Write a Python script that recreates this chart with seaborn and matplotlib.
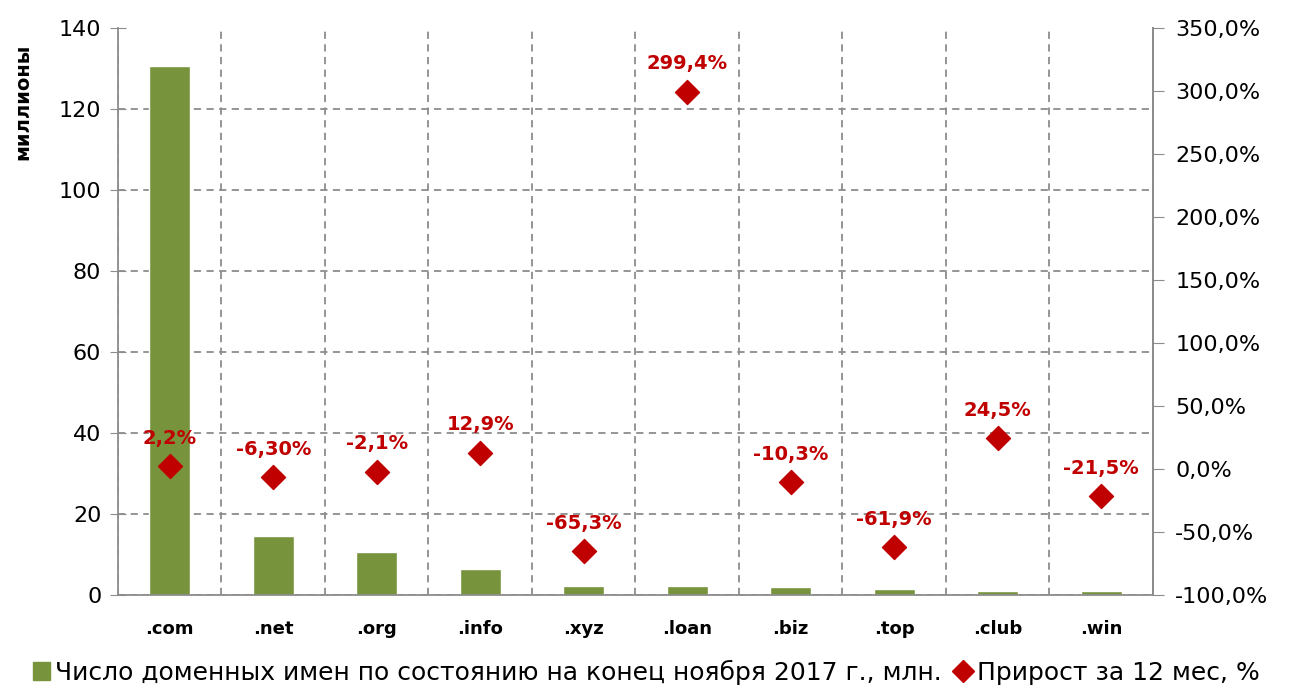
import matplotlib
matplotlib.use("Agg")
import matplotlib.pyplot as plt
import seaborn as sns
import pandas as pd
from matplotlib.lines import Line2D
from matplotlib.patches import Patch
from matplotlib.ticker import FuncFormatter, MultipleLocator, FixedLocator

categories = [".com", ".net", ".org", ".info", ".xyz", ".loan", ".biz", ".top", ".club", ".win"]
domains_mln = [130.6, 14.6, 10.6, 6.4, 2.3, 2.1, 2.0, 1.5, 1.0, 1.0]
growth_pct = [2.2, -6.3, -2.1, 12.9, -65.3, 299.4, -10.3, -61.9, 24.5, -21.5]
growth_labels = ["2,2%", "-6,30%", "-2,1%", "12,9%", "-65,3%", "299,4%", "-10,3%", "-61,9%", "24,5%", "-21,5%"]
legend_bar = "Число доменных имен по состоянию на конец ноября 2017 г., млн."
legend_pt = "Прирост за 12 мес, %"
ylabel = "миллионы"

sns.set_style("white")
plt.rcParams['font.family'] = ['DejaVu Sans']
plt.rcParams['text.color'] = 'black'
plt.rcParams['axes.labelcolor'] = 'black'
plt.rcParams['xtick.color'] = 'black'
plt.rcParams['ytick.color'] = 'black'

df = pd.DataFrame({"cat": categories, "val": domains_mln, "g": growth_pct})

fig = plt.figure(figsize=(12.92, 6.90), dpi=100)
ax = fig.add_axes([0.0913, 0.1377, 0.8011, 0.8217])

green = "#77933C"
red = "#C00000"
grey = "#8C8C8C"

sns.barplot(data=df, x="cat", y="val", ax=ax, color=green, width=0.4, saturation=1)
ax.set_xlim(-0.5, 9.5)
ax.set_ylim(0, 140)
ax.yaxis.set_major_locator(FixedLocator(list(range(0, 141, 20))))
ax.set_xlabel("")
ax.set_ylabel(ylabel, fontsize=14, fontweight="bold", color="black")
ax.yaxis.set_label_coords(-0.083, 0.87)

# grid
ax.xaxis.set_minor_locator(FixedLocator([i + 0.5 for i in range(-1, 10)]))
ax.grid(True, which="major", axis="y", linestyle=(0, (4, 3)), color=grey, linewidth=1.3)
ax.grid(True, which="minor", axis="x", linestyle=(0, (4, 3)), color=grey, linewidth=1.3)
ax.set_axisbelow(True)
gl = ax.yaxis.get_gridlines()
gl[-1].set_visible(False)

ax.spines["top"].set_visible(False)
for s in ["left", "bottom", "right"]:
    ax.spines[s].set_color(grey)
    ax.spines[s].set_linewidth(1.3)

ax.tick_params(axis="y", which="major", direction="inout", length=12, color=grey, labelsize=16, pad=6, labelcolor="black")
ax.tick_params(axis="x", which="major", length=0, labelsize=13, pad=18, labelcolor="black")
ax.tick_params(axis="x", which="minor", direction="out", length=8, color=grey)
for lbl in ax.get_xticklabels():
    lbl.set_fontweight("bold")

ax2 = ax.twinx()
sns.scatterplot(data=df, x="cat", y="g", ax=ax2, marker="D", color=red, s=150, edgecolor=red, zorder=5, legend=False)
ax2.set_ylim(-100, 350)
ax2.yaxis.set_major_locator(MultipleLocator(50))
ax2.yaxis.set_major_formatter(FuncFormatter(lambda v, p: f"{v:.1f}%".replace(".", ",")))
ax2.set_ylabel("")
ax2.tick_params(axis="y", direction="out", length=8, color=grey, labelsize=16, pad=8, labelcolor="black")
for s in ["top", "left", "bottom"]:
    ax2.spines[s].set_visible(False)
ax2.spines["right"].set_color(grey)
ax2.spines["right"].set_linewidth(1.3)
ax2.set_xlim(-0.5, 9.5)

for i, (v, t) in enumerate(zip(growth_pct, growth_labels)):
    ax2.annotate(t, (i, v), xytext=(0, 20), textcoords="offset points",
                 ha="center", va="center", color=red, fontsize=14, fontweight="bold", zorder=6)

handles = [Patch(facecolor=green, edgecolor=green, label=legend_bar),
           Line2D([], [], marker="D", color=red, linestyle="none", markersize=11, label=legend_pt)]
fig.legend(handles=handles, loc="center", bbox_to_anchor=(0.5, 0.026), ncol=2, frameon=False,
           fontsize=18, handlelength=0.7, handletextpad=0.2, columnspacing=0.5, labelcolor="black")

fig.savefig("out.png", dpi=100)
